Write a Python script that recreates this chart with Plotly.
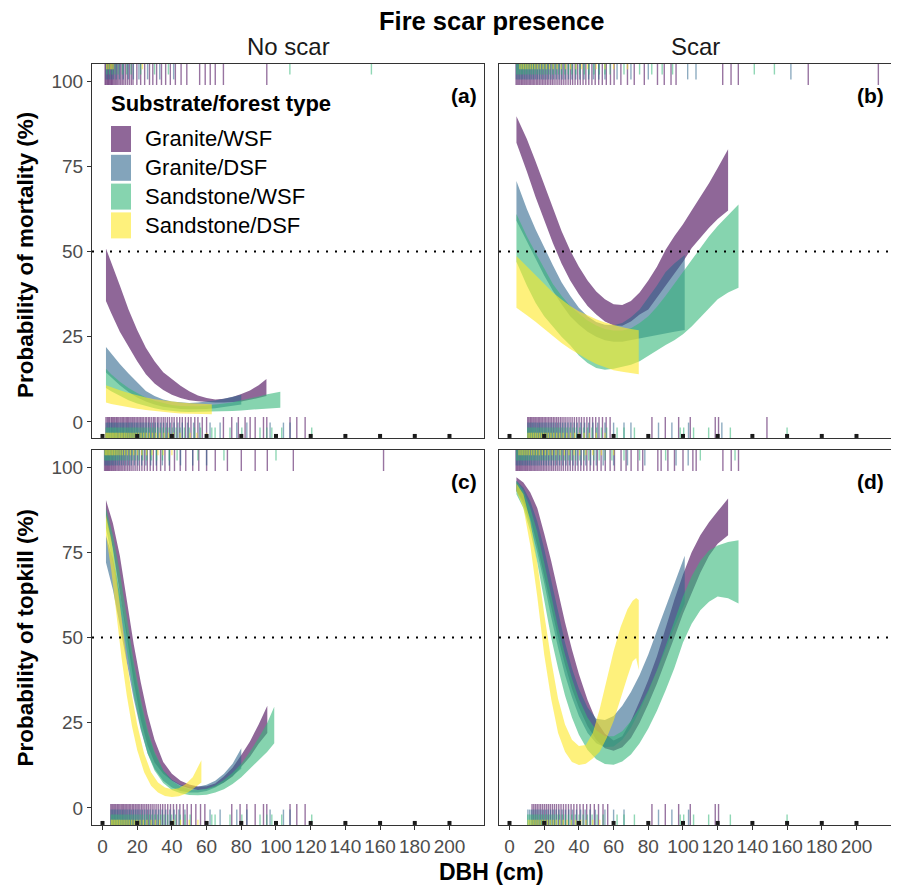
import plotly.graph_objects as go

# ---------------- data ----------------
GROUPS = ["Granite/WSF", "Granite/DSF", "Sandstone/WSF", "Sandstone/DSF"]
RGB = [(68, 1, 84), (49, 104, 142), (53, 183, 121), (253, 231, 37)]
X_TICKS = [0, 20, 40, 60, 80, 100, 120, 140, 160, 180, 200]
Y_TICKS = [0, 25, 50, 75, 100]

# Panel (a): mortality, no scar
a_gw_dbh = [2, 5, 10, 15, 20, 25, 30, 35, 40, 45, 50, 55, 60, 65, 70, 75, 80, 85, 90, 94.5]
a_gw_hi = [50.9, 47, 40, 33, 27, 21.8, 17.8, 14.6, 12.5, 10.6, 9, 7.8, 7, 6.6, 6.8, 7.3, 8.2, 9.2, 10.8, 12.6]
a_gw_lo = [35.5, 32, 26.5, 22, 17.8, 14, 11.3, 9.4, 8, 7, 6.4, 6.1, 5.8, 5.7, 5.7, 5.8, 6, 6.5, 7, 7.6]
a_gd_dbh = [2, 5, 10, 15, 20, 25, 30, 35, 40, 45, 50, 55, 60, 65, 70, 75, 80]
a_gd_hi = [22, 20, 17, 14.2, 11.5, 9.1, 7.6, 6.6, 6, 5.7, 5.6, 5.7, 5.9, 6.3, 6.8, 7.4, 8]
a_gd_lo = [14.5, 13, 10.8, 8.8, 7.2, 6, 5.1, 4.5, 4.1, 3.8, 3.7, 3.7, 3.8, 4, 4.3, 4.7, 5.1]
a_sw_dbh = [2, 5, 10, 15, 20, 25, 30, 35, 40, 45, 50, 55, 60, 65, 70, 75, 80, 85, 90, 95, 102.5]
a_sw_hi = [15.6, 14, 11.8, 10, 8.5, 7.2, 6.2, 5.5, 5, 4.7, 4.6, 4.6, 4.8, 5, 5.4, 5.8, 6.3, 6.9, 7.5, 8.1, 8.9]
a_sw_lo = [10, 9, 7.6, 6.4, 5.4, 4.6, 4, 3.5, 3.2, 3, 2.9, 2.9, 2.9, 3, 3.1, 3.2, 3.4, 3.6, 3.8, 4, 4.2]
a_sd_dbh = [2, 5, 10, 15, 20, 25, 30, 35, 40, 45, 50, 55, 63]
a_sd_hi = [10.8, 10.2, 9.3, 8.5, 7.8, 7.2, 6.7, 6.3, 6, 5.7, 5.5, 5.3, 5.2]
a_sd_lo = [5.7, 5.3, 4.8, 4.3, 3.9, 3.5, 3.2, 2.9, 2.7, 2.5, 2.4, 2.3, 2.3]

# Panel (b): mortality, scar
b_gw_dbh = [4, 10, 15, 20, 25, 30, 35, 40, 45, 50, 55, 60, 65, 70, 75, 80, 85, 90, 95, 100, 105, 110, 115, 120, 126]
b_gw_hi = [89.7, 83, 76.5, 69.5, 62.5, 56, 50.3, 45.5, 41.5, 38.3, 36, 34.5, 34.3, 35.5, 38, 41.5, 45.5, 50.5, 54.5, 58, 62, 66, 70, 74.5, 80]
b_gw_lo = [81.9, 73.5, 66, 59, 52.5, 46.5, 41.5, 37.5, 34, 31.5, 29.5, 28.3, 28.2, 29.5, 31.5, 33, 36.5, 40, 43.5, 47, 51, 54, 57, 59.5, 62]
b_gd_dbh = [4, 10, 15, 20, 25, 30, 35, 40, 45, 50, 55, 60, 65, 70, 75, 80, 85, 90, 95, 101]
b_gd_hi = [70.7, 62.5, 56.5, 51, 46, 41, 37, 33.5, 31, 29.3, 28.5, 28.4, 29, 30.7, 33, 36.5, 40, 44, 46.5, 49]
b_gd_lo = [59, 53, 48, 43, 38.5, 34.5, 31, 28.5, 26.5, 25, 24, 23.5, 23.5, 24, 24.5, 25, 25.5, 26, 26.5, 27]
b_sw_dbh = [4, 10, 15, 20, 25, 30, 35, 40, 45, 50, 55, 60, 65, 70, 75, 80, 85, 90, 95, 100, 105, 110, 115, 120, 126, 132]
b_sw_hi = [61, 54.5, 49.7, 45.3, 40.5, 37, 34, 31.8, 29.8, 28.3, 27.3, 26.8, 26.8, 27.5, 29, 31, 33.8, 37, 40.5, 44.2, 47.7, 51.2, 54.5, 57.5, 60.5, 63.8]
b_sw_lo = [47, 40, 35, 31, 28, 25, 22.5, 19.5, 17.3, 15.8, 15.3, 15.6, 16.2, 16.8, 17.8, 19.4, 21, 22.6, 24, 25.7, 28, 30.7, 33.3, 36, 38, 39.4]
b_sd_dbh = [4, 10, 15, 20, 25, 30, 35, 40, 45, 50, 55, 60, 65, 70, 74.5]
b_sd_hi = [48.7, 45.6, 43, 40.5, 38, 35.9, 34, 32.5, 31.2, 30.1, 29.2, 28.4, 27.8, 27.3, 26.9]
b_sd_lo = [33.5, 31.3, 29.4, 27.4, 25.3, 23.2, 21.4, 19.8, 18.3, 17, 16, 15.2, 14.7, 14.3, 14]

# Panel (c): topkill, no scar
c_gw_dbh = [2, 6, 10, 14, 18, 22, 26, 30, 35, 40, 45, 50, 55, 60, 65, 70, 75, 80, 85, 90, 95]
c_gw_hi = [90.3, 83.5, 74, 61.5, 48, 37, 27.5, 20, 13.5, 10, 8, 6.9, 6.3, 6.4, 7.2, 9.2, 11.8, 15.5, 19.5, 24.5, 30]
c_gw_lo = [85, 76, 63.5, 50.3, 37, 26, 18.3, 13.3, 10, 8, 6.6, 5.8, 5.3, 5.5, 6.2, 7.5, 9.2, 12, 15, 18.8, 22]
c_gd_dbh = [2, 6, 10, 14, 18, 22, 26, 30, 35, 40, 45, 50, 55, 60, 65, 70, 75, 80]
c_gd_hi = [80, 73, 63, 52, 40.5, 30.5, 22, 16, 11, 8.3, 6.8, 6.2, 6.2, 6.8, 8, 10, 13, 17.5]
c_gd_lo = [72, 64, 54, 43, 32, 23, 16, 11.5, 8, 6, 5, 4.5, 4.5, 5, 6, 7.5, 9.5, 11.5]
c_sw_dbh = [2, 6, 10, 14, 18, 22, 26, 30, 35, 40, 45, 50, 55, 60, 65, 70, 75, 80, 85, 90, 95, 99]
c_sw_hi = [88, 80, 69, 56, 43, 32, 23, 16.5, 11, 8, 6.3, 5.5, 5.3, 5.6, 6.6, 8.2, 10.3, 13, 16.5, 20.5, 25, 29.7]
c_sw_lo = [82, 72, 59, 46, 33.5, 23.5, 16, 11, 7.3, 5.3, 4.3, 3.8, 3.7, 3.9, 4.5, 5.5, 7, 9, 11.5, 14, 16.5, 19]
c_sd_dbh = [2, 5, 8, 11, 14, 17, 20, 24, 28, 32, 36, 40, 44, 48, 52, 57]
c_sd_hi = [86, 79, 68, 55, 43, 33, 24.5, 16, 10.5, 7.5, 6, 5.5, 5.8, 7, 9, 14]
c_sd_lo = [80, 70, 57, 44, 33, 24, 17, 10.5, 6.5, 4.5, 3.5, 3.2, 3.4, 4.2, 5.5, 7.5]

# Panel (d): topkill, scar
d_gw_dbh = [4, 8, 12, 16, 20, 24, 28, 32, 36, 40, 45, 50, 55, 60, 65, 70, 75, 80, 85, 90, 95, 100, 105, 110, 115, 120, 126]
d_gw_hi = [97, 95.5, 92.5, 88, 80.5, 72.5, 63.5, 54.5, 46.5, 39.3, 31.7, 25.6, 21.8, 19.8, 21, 25.5, 31.3, 37.5, 44.5, 53, 61, 68.5, 75, 80, 83.8, 87, 90.8]
d_gw_lo = [93, 90, 85, 77, 68, 59, 50, 42, 35, 29.5, 24, 20, 17.5, 16.8, 17.8, 20.5, 25, 30.5, 36.5, 43, 50, 57, 63, 69, 74, 77.5, 80]
d_gd_dbh = [4, 8, 12, 16, 20, 24, 28, 32, 36, 40, 45, 50, 55, 60, 65, 70, 75, 80, 85, 90, 95, 101]
d_gd_hi = [96, 94, 90, 84, 76, 67, 57.5, 48.5, 41, 35, 29.5, 26.2, 25.8, 27, 30, 34, 39, 45, 52, 59, 66, 74]
d_gd_lo = [93, 89, 83, 75, 66, 56, 47, 39, 32.5, 27, 22, 19, 17.8, 18, 20, 23.5, 28.5, 34, 40, 46.5, 53, 60]
d_sw_dbh = [4, 8, 12, 16, 20, 24, 28, 32, 36, 40, 45, 50, 55, 60, 65, 70, 75, 80, 85, 90, 95, 100, 105, 110, 115, 120, 126, 132]
d_sw_hi = [96, 93, 88, 81, 72, 62, 53, 45, 38, 32, 26.5, 22.8, 21, 21, 22.5, 25.5, 29.5, 34.5, 40.5, 47.5, 55, 62, 68, 72.5, 75.5, 77, 78, 78.5]
d_sw_lo = [92, 88, 81, 72, 61, 50, 41, 33, 26.5, 21.5, 17, 14.3, 12.9, 12.7, 13.6, 15.7, 19, 23.3, 28.5, 34.5, 41, 48.5, 54, 58, 60.5, 62, 61.5, 60]
d_sd_dbh = [4, 8, 12, 16, 20, 24, 28, 32, 36, 40, 44, 48, 52, 56, 60, 64, 68, 71, 73, 74.5]
d_sd_hi = [95.2, 92, 84, 72, 57, 43.5, 32, 24.5, 20, 18.2, 18.5, 22, 29, 37.5, 46, 53, 58.3, 60.8, 61.6, 61]
d_sd_lo = [93, 88, 77, 62, 45, 32, 22, 16.5, 13.5, 12.6, 13, 14.5, 16.5, 20.5, 25.5, 32, 38.5, 43, 44, 40.5]

# Rug data (DBH of individual trees); top = dead/topkilled (100 %), bottom = survived (0 %)
rug_a_top_gw = [1.5, 2.0, 2.6, 3.1, 3.6, 4.2, 4.8, 5.3, 5.9, 6.6, 7.3, 8.0, 8.8, 9.6, 10.5, 11.4, 12.3, 13.3, 14.4, 15.5, 16.6, 17.6, 19.8, 22.0, 24.3, 27.1, 29.0, 31.2, 34.0, 36.4, 39.1, 42.0, 45.3, 48.6, 56.0, 59.2, 62.1, 65.0, 69.7, 94.7]
rug_a_top_gd = [2.1, 3.0, 4.1, 5.2, 6.3, 7.9, 9.8, 12.0, 14.9, 17.8, 21.0, 26.0, 33.0, 41.0]
rug_a_top_sw = [2.5, 4.0, 5.6, 7.2, 9.0, 11.5, 14.0, 16.5, 22.0, 30.0, 38.0, 108.0, 155.0]
rug_a_top_sd = [2.4, 3.3, 4.4, 5.2, 6.1, 23.0]
rug_a_bot_gw = [2.0, 2.8, 3.5, 4.1, 5.0, 5.6, 6.3, 7.0, 7.8, 8.4, 9.1, 10.0, 10.7, 11.5, 12.2, 13.0, 13.8, 14.5, 15.2, 16.0, 16.9, 17.6, 18.4, 19.3, 20.1, 21.0, 21.8, 22.7, 23.5, 24.6, 25.4, 26.5, 27.3, 28.4, 29.5, 30.3, 31.6, 32.5, 33.8, 35.0, 36.1, 37.4, 38.6, 40.0, 41.3, 42.9, 44.5, 46.0, 47.8, 49.5, 51.0, 53.2, 55.0, 57.5, 60.0, 69.7, 74.5, 78.3, 82.2, 85.1, 88.0, 92.8, 94.7, 108.1, 112.0, 116.8]
rug_a_bot_gd = [2.2, 3.0, 3.9, 4.6, 5.3, 6.1, 7.0, 7.7, 8.6, 9.5, 10.3, 11.2, 12.0, 12.9, 13.8, 14.8, 15.7, 16.6, 17.5, 18.6, 19.6, 20.5, 21.7, 22.8, 23.9, 25.1, 26.4, 27.6, 28.9, 30.4, 31.8, 33.5, 35.2, 37.0, 39.1, 41.2, 43.5, 46.0, 49.0, 52.5, 56.0, 62.0, 67.8, 77.4, 83.2, 96.6, 104.3, 108.1]
rug_a_bot_sw = [2.1, 2.9, 3.7, 4.4, 5.2, 6.0, 6.8, 7.5, 8.3, 9.2, 10.1, 10.9, 11.8, 12.6, 13.5, 14.4, 15.3, 16.2, 17.2, 18.1, 19.0, 20.0, 21.1, 22.1, 23.2, 24.3, 25.4, 26.6, 27.8, 29.1, 30.4, 31.8, 33.3, 34.9, 36.6, 38.4, 40.3, 42.4, 44.7, 47.2, 50.0, 53.0, 56.5, 63.0, 64.9, 73.5, 80.3, 90.8, 94.7, 97.6, 103.3, 120.6]
rug_a_bot_sd = [2.0, 2.7, 3.4, 4.2, 4.9, 5.7, 6.5, 7.3, 8.1, 9.0, 9.9, 10.8, 11.7, 12.7, 13.7, 14.8, 15.9, 17.0, 18.2, 19.5, 20.8, 22.2, 23.7, 25.3, 27.0, 28.8, 30.8, 33.0, 35.5, 38.0, 40.9, 44.7, 50.5, 54.4, 60.1]

rug_b_top_gw = [3.8, 4.5, 5.3, 6.0, 6.8, 7.5, 8.3, 9.0, 9.8, 10.6, 11.4, 12.2, 13.0, 13.8, 14.6, 15.5, 16.3, 17.2, 18.1, 19.0, 19.9, 20.8, 21.8, 22.7, 23.7, 24.7, 25.7, 26.8, 27.9, 29.0, 30.1, 31.3, 32.5, 33.8, 35.1, 36.4, 37.8, 39.3, 40.8, 42.4, 44.0, 45.7, 47.5, 49.4, 51.4, 53.5, 55.8, 58.2, 60.3, 64.2, 68.0, 71.9, 77.7, 85.3, 89.2, 93.1, 96.0, 122.9, 127.7, 131.9, 172.2, 212.6]
rug_b_top_gd = [4.0, 4.9, 5.8, 6.7, 7.6, 8.6, 9.6, 10.6, 11.6, 12.7, 13.8, 14.9, 16.1, 17.3, 18.5, 19.8, 21.1, 22.5, 23.9, 25.4, 27.0, 28.6, 30.3, 32.1, 34.0, 36.0, 38.2, 40.5, 43.0, 45.6, 48.4, 51.5, 55.0, 62.0, 70.0, 80.0, 102.7, 107.5, 162.2]
rug_b_top_sw = [4.2, 5.0, 5.9, 6.8, 7.7, 8.7, 9.7, 10.7, 11.8, 12.9, 14.0, 15.2, 16.4, 17.7, 19.0, 20.4, 21.8, 23.3, 24.9, 26.5, 28.2, 30.0, 31.9, 33.9, 36.0, 38.2, 40.6, 43.1, 45.8, 48.7, 51.8, 55.0, 58.0, 66.0, 75.0, 82.0, 88.0, 94.0, 141.1, 152.7]
rug_b_top_sd = [6.0, 7.1, 8.2, 9.4, 10.6, 11.9, 13.2, 14.6, 16.1, 17.7, 19.4, 21.2, 23.1, 25.2, 27.4, 29.8, 32.4, 35.2, 38.3, 41.6, 45.0, 50.0, 55.0, 60.0, 68.0]
rug_b_bot_gw = [10.5, 11.2, 12.0, 12.7, 13.5, 14.2, 15.0, 15.8, 16.6, 17.4, 18.2, 19.0, 19.9, 20.7, 21.6, 22.5, 23.4, 24.3, 25.3, 26.2, 27.2, 28.2, 29.3, 30.3, 31.4, 32.5, 33.7, 34.9, 36.1, 37.4, 38.7, 40.1, 41.5, 43.0, 44.6, 46.2, 47.9, 49.7, 51.6, 53.6, 55.7, 58.0, 82.1, 89.8, 97.5, 104.2, 118.6, 120.5, 148.4]
rug_b_bot_gd = [10.6, 11.5, 12.4, 13.3, 14.2, 15.2, 16.2, 17.2, 18.2, 19.3, 20.4, 21.5, 22.7, 23.9, 25.1, 26.4, 27.7, 29.1, 30.6, 32.1, 33.7, 35.4, 37.2, 39.1, 41.1, 43.3, 45.6, 48.1, 50.8, 55.0, 60.0, 66.0, 70.0, 85.9, 93.6, 103.2, 122.4]
rug_b_bot_sw = [10.5, 11.3, 12.2, 13.1, 14.0, 14.9, 15.9, 16.9, 17.9, 18.9, 20.0, 21.1, 22.2, 23.4, 24.6, 25.9, 27.2, 28.6, 30.0, 31.5, 33.1, 34.8, 36.6, 38.5, 40.5, 42.7, 45.0, 47.5, 50.2, 53.0, 56.0, 62.0, 66.0, 72.0, 98.4, 100.4, 106.1, 114.8, 127.3, 160.0]
rug_b_bot_sd = [10.7, 11.7, 12.7, 13.8, 14.9, 16.0, 17.2, 18.4, 19.7, 21.0, 22.4, 23.9, 25.5, 27.2, 29.0, 30.9, 33.0, 35.2, 37.6, 40.2, 43.0, 46.0, 50.0, 55.0]

rug_c_top_gw = [1.2, 1.8, 2.4, 3.0, 3.6, 4.2, 4.9, 5.5, 6.2, 6.9, 7.6, 8.4, 9.2, 10.0, 10.8, 11.7, 12.6, 13.5, 14.5, 15.5, 16.5, 17.6, 18.8, 20.0, 21.3, 22.7, 24.2, 25.8, 27.5, 29.3, 31.2, 33.5, 36.0, 38.7, 41.5, 44.8, 48.0, 52.0, 55.5, 60.0, 65.0, 72.0, 80.0, 88.0, 95.0, 110.0, 162.0]
rug_c_top_gd = [1.5, 2.3, 3.1, 3.9, 4.8, 5.7, 6.6, 7.6, 8.6, 9.7, 10.9, 12.1, 13.5, 15.0, 16.6, 18.4, 20.4, 22.6, 25.0, 27.8, 31.0, 34.5, 38.5, 45.0, 52.0, 60.0]
rug_c_top_sw = [1.4, 2.1, 2.9, 3.7, 4.5, 5.4, 6.3, 7.2, 8.2, 9.2, 10.3, 11.5, 12.8, 14.2, 15.7, 17.3, 19.1, 21.0, 23.2, 25.6, 28.2, 31.2, 34.6, 38.5, 43.0, 55.0, 70.0, 100.0]
rug_c_top_sd = [1.6, 2.4, 3.2, 4.0, 4.9, 5.8, 6.8, 7.8, 8.9, 10.1, 11.4, 12.8, 14.4, 16.1, 18.0, 20.2, 22.6, 25.4, 28.6, 32.0, 35.0, 40.0]
rug_c_bot_gw = [4.8, 5.5, 6.2, 7.0, 7.7, 8.5, 9.2, 10.0, 10.8, 11.6, 12.3, 13.1, 13.9, 14.7, 15.5, 16.3, 17.2, 18.0, 18.9, 19.8, 20.6, 21.5, 22.5, 23.4, 24.4, 25.4, 26.4, 27.5, 28.6, 29.7, 30.9, 32.1, 33.4, 34.7, 36.1, 37.6, 39.2, 40.9, 42.7, 44.6, 46.6, 48.8, 51.2, 53.8, 56.5, 59.0, 74.5, 79.3, 83.2, 88.0, 92.8, 94.7, 108.1, 112.0, 116.8]
rug_c_bot_gd = [5.0, 5.9, 6.8, 7.7, 8.6, 9.6, 10.5, 11.5, 12.5, 13.5, 14.6, 15.7, 16.8, 18.0, 19.2, 20.4, 21.7, 23.0, 24.4, 25.9, 27.4, 29.0, 30.7, 32.5, 34.4, 36.5, 38.8, 41.3, 44.0, 47.5, 62.0, 67.8, 77.4, 83.2, 96.6, 104.3, 108.1]
rug_c_bot_sw = [5.1, 5.9, 6.7, 7.6, 8.4, 9.3, 10.2, 11.1, 12.0, 13.0, 14.0, 15.0, 16.0, 17.1, 18.2, 19.3, 20.5, 21.7, 22.9, 24.2, 25.6, 27.0, 28.5, 30.1, 31.8, 33.6, 35.5, 37.6, 39.8, 42.2, 44.8, 47.6, 50.5, 63.0, 64.9, 73.5, 80.3, 90.8, 94.7, 97.6, 103.3, 120.6]
rug_c_bot_sd = [5.2, 6.0, 6.9, 7.8, 8.7, 9.7, 10.7, 11.8, 12.9, 14.1, 15.4, 16.8, 18.3, 19.9, 21.6, 23.5, 25.6, 28.0, 30.5, 33.0, 41.0, 45.0, 50.0, 55.0]

rug_d_top_gw = [3.8, 4.4, 5.0, 5.7, 6.3, 7.0, 7.7, 8.4, 9.1, 9.8, 10.5, 11.3, 12.0, 12.8, 13.6, 14.4, 15.2, 16.0, 16.9, 17.7, 18.6, 19.5, 20.4, 21.3, 22.3, 23.3, 24.3, 25.3, 26.4, 27.5, 28.6, 29.8, 31.0, 32.3, 33.6, 35.0, 36.4, 37.9, 39.5, 41.1, 42.8, 44.6, 46.5, 48.5, 50.6, 52.8, 55.2, 58.0, 60.5, 64.3, 67.2, 70.1, 74.0, 76.8, 85.5, 87.4, 91.3, 95.1, 100.0, 105.7, 107.6, 123.0, 127.8, 132.0]
rug_d_top_gd = [4.0, 4.8, 5.7, 6.6, 7.5, 8.4, 9.4, 10.4, 11.4, 12.5, 13.6, 14.7, 15.9, 17.1, 18.4, 19.7, 21.1, 22.5, 24.0, 25.6, 27.2, 28.9, 30.7, 32.6, 34.6, 36.7, 39.0, 41.4, 44.0, 46.8, 50.0, 54.0, 60.0, 68.0, 78.0, 96.0, 103.0]
rug_d_top_sw = [4.1, 4.9, 5.8, 6.7, 7.6, 8.6, 9.6, 10.6, 11.7, 12.8, 13.9, 15.1, 16.3, 17.6, 18.9, 20.3, 21.7, 23.2, 24.8, 26.4, 28.1, 29.9, 31.8, 33.8, 35.9, 38.1, 40.5, 43.0, 45.7, 48.6, 51.7, 55.0, 59.0, 66.0, 75.0, 90.0, 110.0, 130.0]
rug_d_top_sd = [5.5, 6.6, 7.7, 8.9, 10.1, 11.4, 12.7, 14.1, 15.6, 17.2, 18.9, 20.7, 22.6, 24.6, 26.8, 29.1, 31.6, 34.3, 37.2, 40.4, 44.0, 48.0, 53.0, 60.0]
rug_d_bot_gw = [13.0, 14.0, 15.0, 16.0, 17.0, 18.0, 19.1, 20.2, 21.3, 22.4, 23.5, 24.7, 25.9, 27.1, 28.4, 29.7, 31.1, 32.5, 34.0, 35.5, 37.1, 38.8, 40.6, 42.5, 44.5, 46.6, 48.9, 51.3, 53.9, 56.6, 82.1, 89.8, 97.5, 104.2, 118.6, 120.5]
rug_d_bot_gd = [10.6, 11.6, 12.6, 13.6, 14.7, 15.8, 17.0, 18.2, 19.5, 20.8, 22.2, 23.7, 25.2, 26.8, 28.5, 30.3, 32.2, 34.2, 36.3, 38.6, 41.0, 43.6, 46.4, 49.5, 55.0, 60.0, 66.0, 85.9, 93.6, 103.2]
rug_d_bot_sw = [10.5, 11.4, 12.3, 13.2, 14.2, 15.2, 16.2, 17.3, 18.4, 19.5, 20.7, 21.9, 23.2, 24.5, 25.9, 27.4, 28.9, 30.5, 32.2, 34.0, 35.9, 37.9, 40.1, 42.4, 44.9, 47.6, 50.5, 54.0, 62.0, 66.0, 72.0, 98.4, 100.4, 106.1, 114.8, 127.3, 160.0]
rug_d_bot_sd = [10.8, 11.8, 12.9, 14.0, 15.2, 16.4, 17.7, 19.0, 20.4, 21.9, 23.5, 25.2, 27.0, 28.9, 31.0, 33.2, 35.6, 38.2, 41.0, 44.0, 48.0, 52.0]

# ---------------- layout constants ----------------
OFF = 8                      # page body margin of the browser
W, H = 899 - OFF, 887 - OFF  # figure size so it fits the window
FONT = "Liberation Sans, Arial, Helvetica, sans-serif"
XR = [-6.05, 219.9]
YR_TOP = [-4.7, 105.0]
YR_BOT = [-5.0, 105.0]
PX_PER_Y = 3.41


def pxx(x):
    return (x - OFF) / W


def pxy(y):
    return 1 - (y - OFF) / H


XD_L = [pxx(92), pxx(484)]
XD_R = [pxx(499), pxx(891)]
YD_T = [pxy(438), pxy(64)]
YD_B = [pxy(825), pxy(450)]


def rgba(c, a):
    return f"rgba({c[0]},{c[1]},{c[2]},{a})"


fig = go.Figure()

panels = [
    ("x", "y", YR_TOP,
     [(a_gw_dbh, a_gw_lo, a_gw_hi), (a_gd_dbh, a_gd_lo, a_gd_hi), (a_sw_dbh, a_sw_lo, a_sw_hi), (a_sd_dbh, a_sd_lo, a_sd_hi)],
     [rug_a_top_gw, rug_a_top_gd, rug_a_top_sw, rug_a_top_sd],
     [rug_a_bot_gw, rug_a_bot_gd, rug_a_bot_sw, rug_a_bot_sd]),
    ("x2", "y2", YR_TOP,
     [(b_gw_dbh, b_gw_lo, b_gw_hi), (b_gd_dbh, b_gd_lo, b_gd_hi), (b_sw_dbh, b_sw_lo, b_sw_hi), (b_sd_dbh, b_sd_lo, b_sd_hi)],
     [rug_b_top_gw, rug_b_top_gd, rug_b_top_sw, rug_b_top_sd],
     [rug_b_bot_gw, rug_b_bot_gd, rug_b_bot_sw, rug_b_bot_sd]),
    ("x3", "y3", YR_BOT,
     [(c_gw_dbh, c_gw_lo, c_gw_hi), (c_gd_dbh, c_gd_lo, c_gd_hi), (c_sw_dbh, c_sw_lo, c_sw_hi), (c_sd_dbh, c_sd_lo, c_sd_hi)],
     [rug_c_top_gw, rug_c_top_gd, rug_c_top_sw, rug_c_top_sd],
     [rug_c_bot_gw, rug_c_bot_gd, rug_c_bot_sw, rug_c_bot_sd]),
    ("x4", "y4", YR_BOT,
     [(d_gw_dbh, d_gw_lo, d_gw_hi), (d_gd_dbh, d_gd_lo, d_gd_hi), (d_sw_dbh, d_sw_lo, d_sw_hi), (d_sd_dbh, d_sd_lo, d_sd_hi)],
     [rug_d_top_gw, rug_d_top_gd, rug_d_top_sw, rug_d_top_sd],
     [rug_d_bot_gw, rug_d_bot_gd, rug_d_bot_sw, rug_d_bot_sd]),
]

RUG_SIZE = [15, 11, 7.5, 3.8]          # marker size -> line length = 1.4 * size px

for xa, ya, yr, ribbons, tops, bots in panels:
    # confidence ribbons
    for i, (dbh, lo, hi) in enumerate(ribbons):
        fig.add_trace(go.Scatter(
            x=list(dbh) + list(dbh)[::-1], y=list(hi) + list(lo)[::-1],
            xaxis=xa, yaxis=ya, mode="lines", fill="toself",
            fillcolor=rgba(RGB[i], 0.6), line=dict(width=0, color="rgba(0,0,0,0)"),
            hoverinfo="skip", showlegend=False, name=GROUPS[i]))
    # rugs
    for i in range(4):
        half = 1.4 * RUG_SIZE[i] / 2 / PX_PER_Y
        col = rgba(RGB[i], 0.55)
        for vals, ycen in ((tops[i], yr[1] - half), (bots[i], yr[0] + half)):
            fig.add_trace(go.Scatter(
                x=vals, y=[ycen] * len(vals), xaxis=xa, yaxis=ya, mode="markers",
                marker=dict(symbol="line-ns", size=RUG_SIZE[i], color=col,
                            line=dict(color=col, width=1.4)),
                hoverinfo="skip", showlegend=False))
    # small squares along the bottom
    fig.add_trace(go.Scatter(
        x=X_TICKS, y=[yr[0] + 0.6] * len(X_TICKS), xaxis=xa, yaxis=ya, mode="markers",
        marker=dict(symbol="square", size=4, color="#1a1a1a"),
        hoverinfo="skip", showlegend=False))

axis_common = dict(showgrid=False, zeroline=False, showline=True, mirror=True,
                   linecolor="#333333", linewidth=1, tickcolor="#333333", ticklen=4,
                   tickfont=dict(family=FONT, size=19, color="#4D4D4D"))


def xaxis(domain, anchor, labels):
    d = dict(axis_common)
    d.update(domain=domain, anchor=anchor, range=XR, tickmode="array", tickvals=X_TICKS,
             ticks="outside" if labels else "", showticklabels=labels)
    return d


def yaxis(domain, anchor, yr, labels):
    d = dict(axis_common)
    d.update(domain=domain, anchor=anchor, range=yr, tickmode="array", tickvals=Y_TICKS,
             ticks="outside" if labels else "", showticklabels=labels)
    return d


shapes = []
for xa, ya in (("x", "y"), ("x2", "y2"), ("x3", "y3"), ("x4", "y4")):
    shapes.append(dict(type="line", xref=f"{xa} domain", yref=ya, x0=0, x1=1, y0=50, y1=50,
                       line=dict(color="black", width=2, dash="2px,7px"), layer="above"))

# legend (inside panel a)
LEG_TOP = [126, 154.8, 183.6, 212.4]
for i in range(4):
    shapes.append(dict(type="rect", xref="paper", yref="paper",
                       x0=pxx(111), x1=pxx(131), y0=pxy(LEG_TOP[i] + 26), y1=pxy(LEG_TOP[i]),
                       fillcolor=rgba(RGB[i], 0.6), line=dict(width=0)))

annotations = [
    dict(text="<b>Fire scar presence</b>", x=pxx(491.5), y=pxy(36), xref="paper", yref="paper",
         showarrow=False, font=dict(family=FONT, size=25.5, color="black"), xanchor="center", yanchor="bottom",
         borderpad=0),
    dict(text="No scar", x=pxx(288), y=pxy(46), xref="paper", yref="paper", showarrow=False,
         font=dict(family=FONT, size=24, color="#1a1a1a"), xanchor="center", yanchor="middle"),
    dict(text="Scar", x=pxx(695), y=pxy(46), xref="paper", yref="paper", showarrow=False,
         font=dict(family=FONT, size=24, color="#1a1a1a"), xanchor="center", yanchor="middle"),
    dict(text="<b>DBH (cm)</b>", x=pxx(491.5), y=pxy(872), xref="paper", yref="paper", showarrow=False,
         font=dict(family=FONT, size=23, color="black"), xanchor="center", yanchor="middle"),
    dict(text="<b>Probability of mortality (%)</b>", x=pxx(25), y=pxy(255), xref="paper", yref="paper",
         showarrow=False, textangle=-90, font=dict(family=FONT, size=22.5, color="black"),
         xanchor="center", yanchor="middle"),
    dict(text="<b>Probability of topkill (%)</b>", x=pxx(25), y=pxy(637.5), xref="paper", yref="paper",
         showarrow=False, textangle=-90, font=dict(family=FONT, size=22.5, color="black"),
         xanchor="center", yanchor="middle"),
    dict(text="<b>Substrate/forest type</b>", x=pxx(109), y=pxy(103), xref="paper", yref="paper",
         showarrow=False, font=dict(family=FONT, size=22, color="black"), xanchor="left", yanchor="middle"),
]
for i in range(4):
    annotations.append(dict(text=GROUPS[i], x=pxx(143), y=pxy(LEG_TOP[i] + 13), xref="paper", yref="paper",
                            showarrow=False, font=dict(family=FONT, size=22, color="black"),
                            xanchor="left", yanchor="middle"))
for lab, xr, yt in (("(a)", 484, 64), ("(b)", 891, 64), ("(c)", 484, 450), ("(d)", 891, 450)):
    annotations.append(dict(text=f"<b>{lab}</b>", x=pxx(xr - 5), y=pxy(yt + 31), xref="paper", yref="paper",
                            showarrow=False, font=dict(family=FONT, size=21, color="black"),
                            xanchor="right", yanchor="middle"))

fig.update_layout(
    width=W, height=H, margin=dict(l=0, r=0, t=0, b=0),
    paper_bgcolor="white", plot_bgcolor="white", showlegend=False,
    xaxis=xaxis(XD_L, "y", False), yaxis=yaxis(YD_T, "x", YR_TOP, True),
    xaxis2=xaxis(XD_R, "y2", False), yaxis2=yaxis(YD_T, "x2", YR_TOP, False),
    xaxis3=xaxis(XD_L, "y3", True), yaxis3=yaxis(YD_B, "x3", YR_BOT, True),
    xaxis4=xaxis(XD_R, "y4", True), yaxis4=yaxis(YD_B, "x4", YR_BOT, False),
    shapes=shapes, annotations=annotations,
)

fig.write_html("out.html")
